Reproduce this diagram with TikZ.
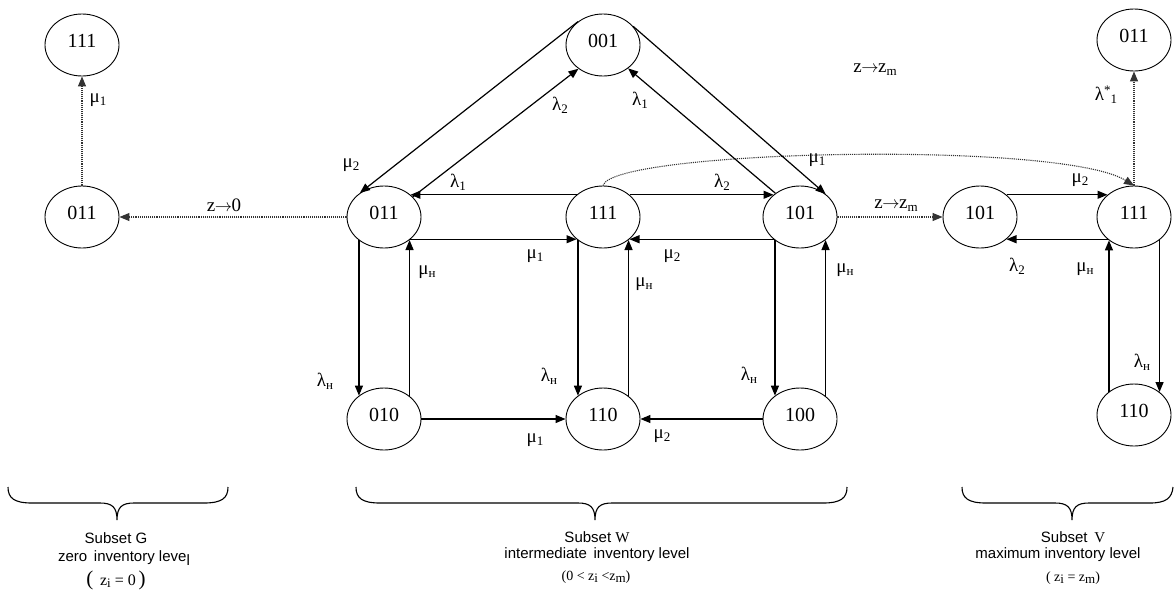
\documentclass[tikz,border=0pt]{standalone}
\usepackage{fontspec}
\setmainfont{Liberation Serif}
\newfontfamily\subfont{Liberation Sans}
\usetikzlibrary{arrows.meta,shapes.geometric}

% subscript / superscript helpers for rate labels
\newcommand\sbs[1]{\raisebox{-0.35ex}{\fontsize{13}{13}\selectfont #1}}
\newcommand\sps[1]{\raisebox{0.7ex}{\fontsize{13}{13}\selectfont #1}}
\newcommand\rate[2]{#1\sbs{#2}}
\newcommand\goesto{\kern-0.5pt$\rightarrow$\kern-0.5pt}

\begin{document}
\begin{tikzpicture}[x=1pt,y=-1pt,
  state/.style={ellipse, draw, line width=0.9pt, minimum width=74pt,
    minimum height=62pt, inner sep=0pt, text depth=9pt,
    font=\fontsize{20}{20}\selectfont},
  flow/.style={-{Triangle[length=10pt,width=8pt]}, line width=1.2pt},
  jump/.style={-{Triangle[length=10pt,width=8pt]}, densely dotted,
    line width=1.1pt, draw=black!80},
  rl/.style={inner sep=0pt, font=\fontsize{19}{19}\selectfont},
  subtxt/.style={inner sep=0pt, font=\subfont\fontsize{15}{15}\selectfont},
  mathtxt/.style={inner sep=0pt, font=\fontsize{16}{16}\selectfont},
  bracepath/.style={line width=1.1pt}]

\useasboundingbox (0,0) rectangle (1174,592);

% ---------- states ----------
% subset G
\node[state] (g111) at (82,45)   {111};
\node[state] (g011) at (82,217)  {011};
% subset W
\node[state] (w001) at (603,45)  {001};
\node[state] (w011) at (384,217) {011};
\node[state] (w111) at (603,217) {111};
\node[state] (w101) at (800,217) {101};
\node[state] (w010) at (384,419) {010};
\node[state] (w110) at (603,419) {110};
\node[state] (w100) at (800,419) {100};
% subset V
\node[state] (v011) at (1134,40)  {011};
\node[state] (v101) at (980,217)  {101};
\node[state] (v111) at (1134,217) {111};
\node[state] (v110) at (1134,415) {110};

% ---------- subset G ----------
\draw[jump] (g011.north) -- (g111.south);
\node[rl] (lg1) at (98,100) {\rate{μ}{1}};

% ---------- transitions between subsets ----------
\draw[jump] (w011.west) -- (g011.east);
\node[rl] (lz0) at (224,205) {z\goesto0};
\draw[jump] (w101.east) -- (v101.west);
\node[rl] (lzm) at (896,206) {z\goesto z\sbs{m}};
\draw[jump] (w111.north) .. controls (612,150) and (1060,140) .. (v111.north);
\node[rl] (lzm2) at (875,70) {z\goesto z\sbs{m}};
\draw[jump] (v111.north) -- (v011.south);
\node[rl] (lls) at (1106,95) {λ\sps{*}\sbs{1}};

% ---------- subset W: triangle ----------
\draw[flow] (w001.137) -- (w011.135);
\node[rl] (lw1) at (351,165) {\rate{μ}{2}};
\draw[flow] (w011.35) -- (w001.224);
\node[rl] (lw2) at (560,105) {\rate{λ}{2}};
\draw[flow] (w101.136) -- (w001.-43);
\node[rl] (lw3) at (640,100) {\rate{λ}{1}};
\draw[flow] (w001.32) -- (w101.42);
\node[rl] (lw4) at (817,160) {\rate{μ}{1}};

% ---------- subset W: horizontal ----------
\draw[flow] (w111.140) -- (w011.40);
\node[rl] (lw5) at (458,182) {\rate{λ}{1}};
\draw[flow] (w111.40) -- (w101.140);
\node[rl] (lw6) at (722,182) {\rate{λ}{2}};
\draw[flow] (w011.-40) -- (w111.-140);
\node[rl] (lw7) at (535,256) {\rate{μ}{1}};
\draw[flow] (w101.-140) -- (w111.-40);
\node[rl] (lw8) at (672,256) {\rate{μ}{2}};
\draw[flow] (w010.east) -- (w110.west);
\node[rl] (lw9) at (535,440) {\rate{μ}{1}};
\draw[flow] (w100.west) -- (w110.east);
\node[rl] (lw10) at (662,436) {\rate{μ}{2}};

% ---------- subset W: vertical ----------
\draw[flow] (w011.-137.5) -- (w010.137.5);
\node[rl] (lw11) at (325,381) {\rate{λ}{н}};
\draw[flow] (w010.42.5) -- (w011.-42.5);
\node[rl] (lw12) at (427,272) {\rate{μ}{н}};
\draw[flow] (w111.-137.5) -- (w110.137.5);
\node[rl] (lw13) at (549,376) {\rate{λ}{н}};
\draw[flow] (w110.42.5) -- (w111.-42.5);
\node[rl] (lw14) at (644,284) {\rate{μ}{н}};
\draw[flow] (w101.-137.5) -- (w100.137.5);
\node[rl] (lw15) at (749,375) {\rate{λ}{н}};
\draw[flow] (w100.42.5) -- (w101.-42.5);
\node[rl] (lw16) at (845,270) {\rate{μ}{н}};

% ---------- subset V ----------
\draw[flow] (v101.40) -- (v111.140);
\node[rl] (lv1) at (1080,180) {\rate{μ}{2}};
\draw[flow] (v111.-140) -- (v101.-40);
\node[rl] (lv2) at (1017,266) {\rate{λ}{2}};
\draw[flow] (v110.137.5) -- (v111.-137.5);
\node[rl] (lv3) at (1085,269) {\rate{μ}{н}};
\draw[flow] (v111.-42.5) -- (v110.42.5);
\node[rl] (lv4) at (1142,362) {\rate{λ}{н}};

% ---------- braces ----------
\draw[bracepath] (8,487) .. controls (8,498) and (14,503) .. (32,503)
  -- (100,503) .. controls (112,503) and (117,507) .. (117,520)
  .. controls (117,507) and (122,503) .. (134,503)
  -- (204,503) .. controls (222,503) and (228,498) .. (228,487);
\draw[bracepath] (356,487) .. controls (356,498) and (362,503) .. (380,503)
  -- (578,503) .. controls (590,503) and (595,507) .. (595,520)
  .. controls (595,507) and (600,503) .. (612,503)
  -- (823,503) .. controls (841,503) and (847,498) .. (847,487);
\draw[bracepath] (962,487) .. controls (962,498) and (968,503) .. (986,503)
  -- (1055,503) .. controls (1067,503) and (1072,507) .. (1072,520)
  .. controls (1072,507) and (1077,503) .. (1089,503)
  -- (1150,503) .. controls (1166,503) and (1172,498) .. (1173,487);

% ---------- subset captions ----------
\node[subtxt] (gc1) at (116,538) {Subset G};
\node[subtxt] (gc2) at (124,558) {zero\, inventory leve\raisebox{-4pt}{l}};
\node[mathtxt] (gc3) at (116,580) {{\fontsize{21}{21}\selectfont(}\, z\sbs{i} = 0\,{\fontsize{21}{21}\selectfont)}};

\node[subtxt] (wc1) at (597,537) {Subset {\rmfamily W}};
\node[subtxt] (wc2) at (597,555) {intermediate\, inventory level};
\node[mathtxt, font=\fontsize{14}{14}\selectfont] (wc3) at (596,577) {(0 < z\sbs{i} <z\sbs{m})};

\node[subtxt] (vc1) at (1073,537) {Subset\, {\rmfamily V}};
\node[subtxt] (vc2) at (1058,555) {maximum inventory level};
\node[mathtxt, font=\fontsize{14}{14}\selectfont] (vc3) at (1073,578) {( z\sbs{i} = z\sbs{m})};

\end{tikzpicture}
\end{document}
